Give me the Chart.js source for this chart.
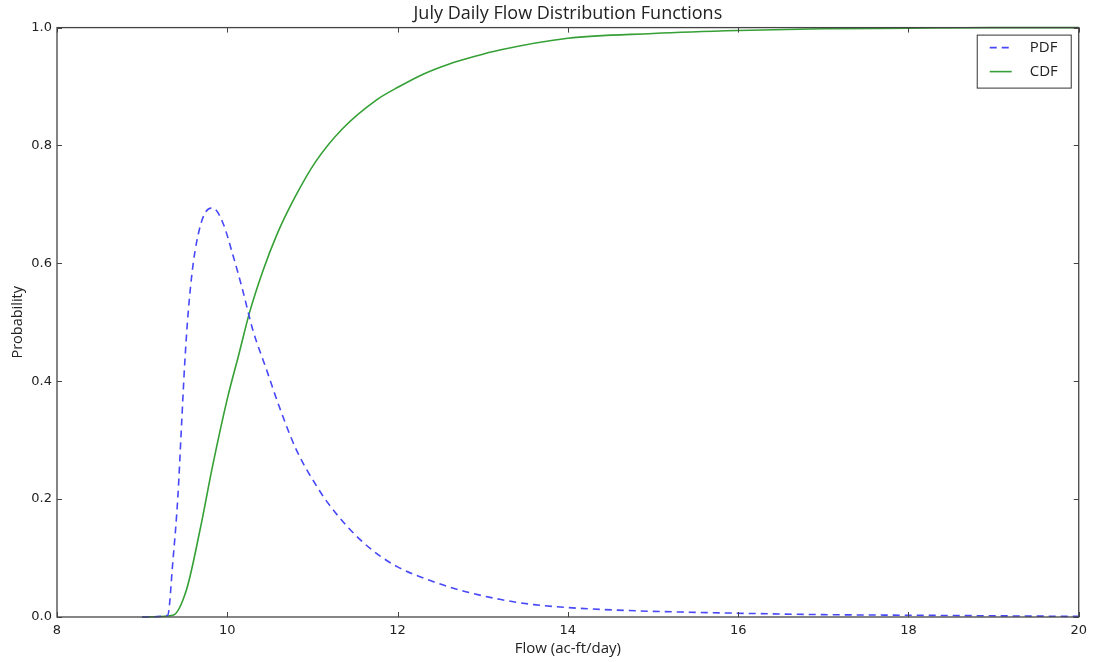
<!DOCTYPE html>
<html>
<head>
<meta charset="utf-8">
<style>
  html, body { margin: 0; padding: 0; background: #fff; }
  #wrap { width: 1093px; height: 662px; }
</style>
<script src="https://cdn.jsdelivr.net/npm/chart.js@4.4.1/dist/chart.umd.min.js"></script>
</head>
<body>
<div id="wrap"><canvas id="flowChart" width="1093" height="662"></canvas></div>
<script>
// values
const pdfFlow = [9.0, 9.3, 9.36, 9.42, 9.46, 9.5, 9.54, 9.6, 9.68, 9.75, 9.83, 9.95, 10.07, 10.18, 10.3, 10.46, 10.61, 10.81, 11.08, 11.2, 11.4, 11.6, 11.8, 12.0, 12.4, 12.8, 13.2, 13.6, 14.0, 14.7, 15.8, 17.0, 18.0, 19.0, 20.0];
const pdfValues = [0, 0.003, 0.093, 0.205, 0.318, 0.43, 0.515, 0.6, 0.662, 0.688, 0.694, 0.668, 0.612, 0.555, 0.487, 0.42, 0.357, 0.284, 0.215, 0.19, 0.155, 0.126, 0.103, 0.085, 0.061, 0.043, 0.03, 0.021, 0.016, 0.011, 0.007, 0.004, 0.003, 0.002, 0.001];

const cdfFlow = [9.0, 9.36, 9.52, 9.68, 9.83, 10.0, 10.14, 10.26, 10.42, 10.58, 10.79, 11.04, 11.35, 11.75, 12.02, 12.3, 12.6, 12.9, 13.2, 14.0, 15.0, 16.0, 17.0, 18.0, 19.0, 20.0];
const cdfValues = [0, 0.003, 0.046, 0.148, 0.258, 0.37, 0.448, 0.516, 0.588, 0.648, 0.711, 0.773, 0.828, 0.877, 0.9, 0.921, 0.938, 0.951, 0.962, 0.982, 0.99, 0.995, 0.998, 0.999, 1.0, 1.0];

const xTicks = [8, 10, 12, 14, 16, 18, 20];
const yTicks = [0.0, 0.2, 0.4, 0.6, 0.8, 1.0];

const FONT = "'DejaVu Sans', sans-serif";
const LABEL_FONT = "'Open Sans', sans-serif";
const TEXT = "#222";

function toPoints(xs, ys) {
  return xs.map((x, i) => ({ x: x, y: ys[i] }));
}

// matplotlib-like frame with inward ticks on all four sides, plus boxed legend
const framePlugin = {
  id: "frame",
  afterDatasetsDraw(chart) {
    const { ctx, chartArea: a, scales } = chart;
    const tl = 5;
    ctx.save();
    ctx.strokeStyle = "#444";
    ctx.lineWidth = 1;
    ctx.beginPath();
    xTicks.forEach(v => {
      const px = Math.round(scales.x.getPixelForValue(v)) + 0.5;
      ctx.moveTo(px, a.bottom); ctx.lineTo(px, a.bottom - tl);
      ctx.moveTo(px, a.top); ctx.lineTo(px, a.top + tl);
    });
    yTicks.forEach(v => {
      const py = Math.round(scales.y.getPixelForValue(v)) + 0.5;
      ctx.moveTo(a.left, py); ctx.lineTo(a.left + tl, py);
      ctx.moveTo(a.right, py); ctx.lineTo(a.right - tl, py);
    });
    ctx.stroke();
    ctx.lineWidth = 1.3;
    ctx.strokeRect(a.left, a.top, a.right - a.left, a.bottom - a.top);

    // legend
    const bx = a.right - 102, by = a.top + 7, bw = 94, bh = 53;
    ctx.fillStyle = "#fff";
    ctx.fillRect(bx, by, bw, bh);
    ctx.strokeStyle = "#333";
    ctx.lineWidth = 1;
    ctx.strokeRect(bx + 0.5, by + 0.5, bw, bh);
    ctx.font = "15px " + LABEL_FONT;
    ctx.textBaseline = "middle";
    chart.data.datasets.forEach((ds, i) => {
      const cy = by + 13 + i * 24;
      ctx.strokeStyle = ds.borderColor;
      ctx.lineWidth = ds.borderWidth;
      ctx.setLineDash(ds.borderDash || []);
      ctx.beginPath();
      ctx.moveTo(bx + 13, cy);
      ctx.lineTo(bx + 35, cy);
      ctx.stroke();
      ctx.setLineDash([]);
      ctx.fillStyle = TEXT;
      ctx.fillText(ds.label, bx + 53, cy);
    });
    ctx.restore();
  }
};

new Chart(document.getElementById("flowChart"), {
  type: "line",
  data: {
    datasets: [
      {
        label: "PDF",
        data: toPoints(pdfFlow, pdfValues),
        borderColor: "#4848f8",
        borderWidth: 1.6,
        borderDash: [7, 5],
        pointRadius: 0,
        cubicInterpolationMode: "monotone",
        fill: false
      },
      {
        label: "CDF",
        data: toPoints(cdfFlow, cdfValues),
        borderColor: "#35a035",
        borderWidth: 1.6,
        pointRadius: 0,
        cubicInterpolationMode: "monotone",
        fill: false
      }
    ]
  },
  options: {
    responsive: false,
    animation: false,
    clip: false,
    layout: { padding: { left: 0, right: 12, top: 0, bottom: 0 } },
    plugins: {
      legend: { display: false },
      tooltip: { enabled: false },
      title: {
        display: true,
        text: "July Daily Flow Distribution Functions",
        fullSize: false,
        color: TEXT,
        font: { family: LABEL_FONT, size: 18, weight: "normal" },
        padding: { top: 3, bottom: 3 }
      }
    },
    scales: {
      x: {
        type: "linear",
        min: 8,
        max: 20,
        afterBuildTicks: s => { s.ticks = xTicks.map(v => ({ value: v })); },
        afterFit: s => { s.height = 45; },
        grid: { display: false, drawTicks: false },
        border: { display: false },
        ticks: { color: TEXT, font: { family: FONT, size: 13 }, padding: 6, maxRotation: 0 },
        title: {
          display: true,
          text: "Flow (ac-ft/day)",
          color: TEXT,
          font: { family: LABEL_FONT, size: 15 },
          padding: { top: 0, bottom: 4 }
        }
      },
      y: {
        min: 0,
        max: 1,
        afterBuildTicks: s => { s.ticks = yTicks.map(v => ({ value: v })); },
        afterFit: s => { s.width = 57; },
        grid: { display: false, drawTicks: false },
        border: { display: false },
        ticks: {
          color: TEXT,
          font: { family: FONT, size: 13 },
          padding: 5,
          callback: v => v.toFixed(1)
        },
        title: {
          display: true,
          text: "Probability",
          color: TEXT,
          font: { family: LABEL_FONT, size: 14.5 },
          padding: { top: 9, bottom: 0 }
        }
      }
    }
  },
  plugins: [framePlugin]
});
</script>
</body>
</html>
